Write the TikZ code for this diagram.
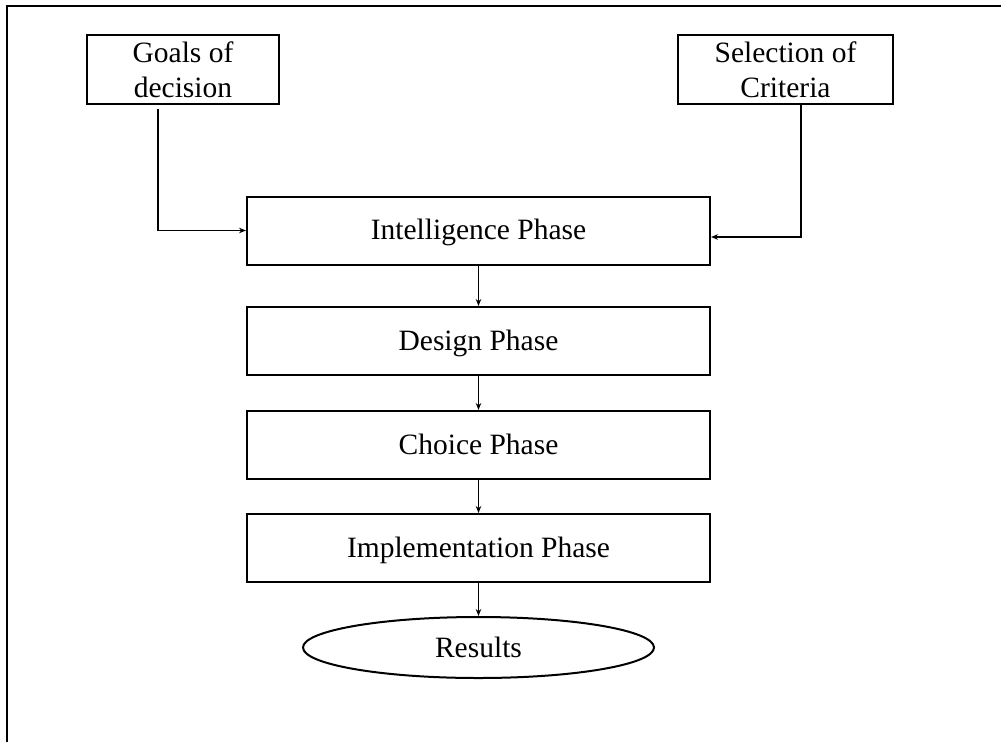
\documentclass[tikz,border=0pt]{standalone}
\usepackage{fontspec}
\setmainfont{Liberation Serif}
\usetikzlibrary{shapes.geometric,arrows.meta}
\begin{document}
\begin{tikzpicture}[x=1pt,y=-1pt,
  every node/.style={font=\fontsize{29.5}{35}\selectfont, inner sep=2pt},
  phasebox/.style={draw, line width=2pt, minimum width=463pt, minimum height=68pt,
                   text height=20pt, text depth=2pt},
  sidebox/.style={draw, line width=2pt, minimum height=69pt, align=center},
  endoval/.style={draw, ellipse, line width=2pt, minimum width=351pt, minimum height=61pt},
  flow/.style={line width=1.5pt, -{Stealth[length=7pt,width=5.5pt]}},
  frame/.style={line width=2.2pt}]
  \useasboundingbox (0,0) rectangle (1001,742);

  % open frame: top and left edges only
  \draw[frame] (7,742) -- (7,6) -- (1001,6);

  % inputs
  \node[sidebox, minimum width=192pt] (goals) at (183,69.5) {Goals of\\decision};
  \node[sidebox, minimum width=215pt] (sel) at (785.5,69.5) {Selection of\\Criteria};

  % phases
  \node[phasebox] (intel) at (478.5,230.5) {Intelligence Phase};
  \node[phasebox] (design) at (478.5,341) {Design Phase};
  \node[phasebox] (choice) at (478.5,445) {Choice Phase};
  \node[phasebox] (impl) at (478.5,548) {Implementation Phase};
  \node[endoval] (res) at (478.5,647.5) {Results};

  % connectors
  \draw[flow] ([xshift=72pt,yshift=-4pt]goals.south west) |- (intel.west);
  \draw[flow] ([xshift=124pt]sel.south west) |- ([yshift=-6.5pt]intel.east);
  \draw[flow] (intel) -- (design);
  \draw[flow] (design) -- (choice);
  \draw[flow] (choice) -- (impl);
  \draw[flow] (impl) -- (res);
\end{tikzpicture}
\end{document}
